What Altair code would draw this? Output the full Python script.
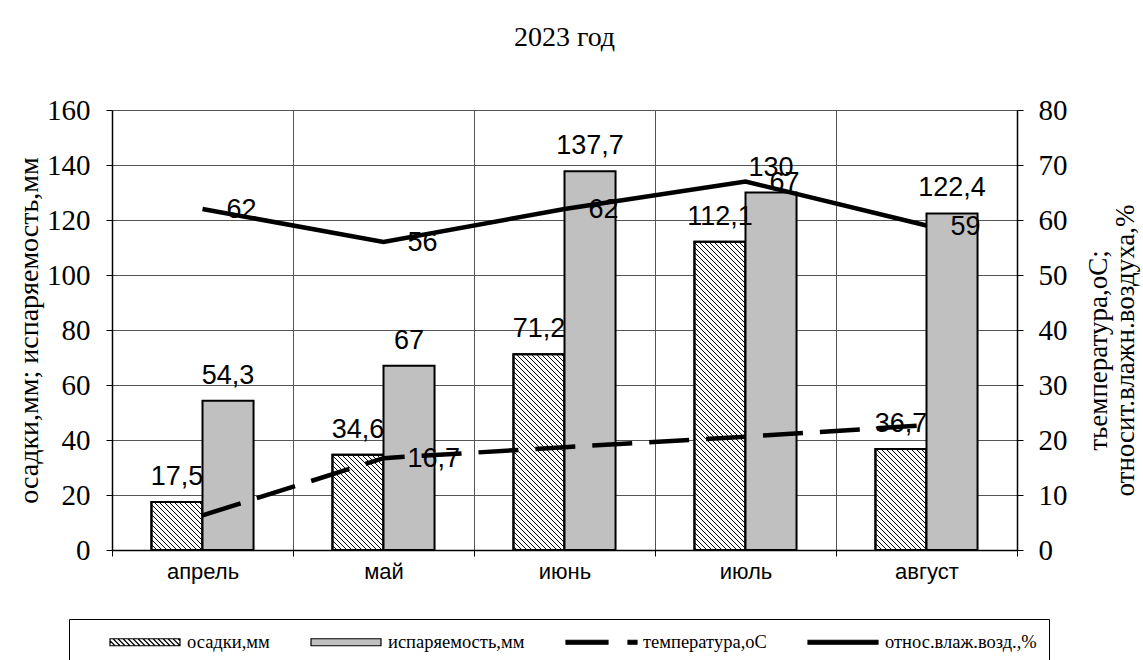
import altair as alt
import pandas as pd

# ---------------- data ----------------
months = ["апрель", "май", "июнь", "июль", "август"]
osadki = [17.5, 34.6, 71.2, 112.1, 36.7]
isparyaemost = [54.3, 67.0, 137.7, 130.0, 122.4]
temperatura = [6.3, 16.7, 18.7, 20.6, 22.7]
vlazhnost = [62, 56, 62, 67, 59]
temp_label_shown = [False, True, False, False, False]

series = ["осадки,мм", "испаряемость,мм", "температура,оС", "относ.влаж.возд.,%"]
chart_title = "2023 год"
left_title = "осадки,мм; испаряемость,мм"
right_title = ["тьемпература,оС;", "относит.влажн.воздуха,%"]
left_ticks = [0, 20, 40, 60, 80, 100, 120, 140, 160]
right_ticks = [0, 10, 20, 30, 40, 50, 60, 70, 80]

# ---------------- layout / style ----------------
W, H = 905, 440
LEFT_MAX, RIGHT_MAX = 160, 80
BAR = 0.282          # bar width in category units
HATCH_STEP = 5.0     # px between hatch lines (horizontal)
SERIF = "Liberation Serif"
SANS = "Liberation Sans"
GRID = "#555555"
GREY = "#c0c0c0"
n = len(months)


def fmt(v):
    return f"{v:g}".replace(".", ",")


hatch_rows, grey_rows = [], []
for i, m in enumerate(months):
    c = i + 0.5
    hatch_rows.append(dict(month=m, x0=c - BAR, x1=c, xc=c - BAR / 2, v=osadki[i], lbl=fmt(osadki[i])))
    grey_rows.append(dict(month=m, x0=c, x1=c + BAR, xc=c + BAR / 2, v=isparyaemost[i], lbl=fmt(isparyaemost[i])))
hatch_df = pd.DataFrame(hatch_rows)
grey_df = pd.DataFrame(grey_rows)
bars_df = pd.concat([hatch_df, grey_df], ignore_index=True)

lines_df = pd.DataFrame(dict(
    month=months,
    xc=[i + 0.5 for i in range(n)],
    t=temperatura,
    h=vlazhnost,
    tl=[fmt(t) if s else "" for t, s in zip(temperatura, temp_label_shown)],
    hl=[fmt(v) for v in vlazhnost],
))

# hatch line segments inside the precipitation bars (derived from the bar values)
sx = W / n
sy = H / LEFT_MAX
segs = []
for r in hatch_df.itertuples():
    x0p, x1p, hp = r.x0 * sx, r.x1 * sx, r.v * sy
    k = int(x0p // HATCH_STEP) + 1
    while k * HATCH_STEP < x1p + hp:
        cc = k * HATCH_STEP
        xa = max(x0p, cc - hp)
        xb = min(x1p, cc)
        if xb - xa > 0.5:
            segs.append(dict(hx=xa / sx, hy=(cc - xa) / sy, hx2=xb / sx, hy2=(cc - xb) / sy))
        k += 1
segs_df = pd.DataFrame(segs)

# legend symbol paths (unit = 10 px with symbolSize 400)
def rect_path(x0, x1, y0, y1):
    return f"M{x0},{y0}H{x1}V{y1}H{x0}Z"

hp_parts = [rect_path(-3.5, 3.5, -0.35, 0.35)]
t = -3.5 - 0.7
while t < 3.5:
    xa, xb = max(t, -3.5), min(t + 0.7, 3.5)
    if xb - xa > 0.05:
        hp_parts.append(f"M{xa:.3f},{-0.35 + (xa - t):.3f}L{xb:.3f},{-0.35 + (xb - t):.3f}")
    t += 0.5
hatch_sym = "".join(hp_parts)
grey_sym = rect_path(-3.5, 3.5, -0.35, 0.35)
dash_sym = rect_path(-3.5, 0.7, -0.2, 0.2) + rect_path(2.7, 3.6, -0.2, 0.2)
solid_sym = rect_path(-3.5, 3.5, -0.2, 0.2)

# ---------------- scales & axes ----------------
xscale = alt.Scale(domain=[0, n], nice=False, zero=False)
label_expr = "datum.value % 1 === 0.5 ? " + str(months) + "[floor(datum.value)] : ''"
on_int = {"condition": {"test": "datum.value % 1 === 0", "value": 1}, "value": 0}
xaxis = alt.Axis(
    values=[k / 2 for k in range(2 * n + 1)], labelExpr=label_expr, title=None,
    grid=True, gridColor=GRID, gridWidth=1, gridOpacity=on_int, tickOpacity=on_int,
    tickSize=6, tickColor="black", domainColor="black", domainWidth=1.5,
    labelFont=SANS, labelFontSize=22, labelColor="black", labelPadding=5,
    labelOverlap=False, labelFlush=False, labelBound=False,
)
yl_scale = alt.Scale(domain=[0, LEFT_MAX], nice=False, zero=True)
yr_scale = alt.Scale(domain=[0, RIGHT_MAX], nice=False, zero=True)
yl_axis = alt.Axis(
    orient="left", values=left_ticks, title=left_title, grid=True, gridColor=GRID, gridWidth=1,
    tickSize=6, tickColor="black", domainColor="black", domainWidth=1.5,
    labelFont=SERIF, labelFontSize=29, labelColor="black", labelPadding=16,
    titleFont=SERIF, titleFontSize=28, titleFontWeight="normal", titleColor="black", titlePadding=3,
)
yr_axis = alt.Axis(
    orient="right", values=right_ticks, title=right_title, grid=False,
    tickSize=6, tickColor="black", domainColor="black", domainWidth=1.5,
    labelFont=SERIF, labelFontSize=29, labelColor="black", labelPadding=15,
    titleFont=SERIF, titleFontSize=27, titleFontWeight="normal", titleColor="black",
    titleAngle=270, titleBaseline="top", titleLineHeight=27, titleX=68, titleY=240,
)


def X(f):
    return alt.X(f, type="quantitative", scale=xscale, axis=xaxis)


def YL(f):
    return alt.Y(f, type="quantitative", scale=yl_scale, axis=yl_axis)


def YR(f):
    return alt.Y(f, type="quantitative", scale=yr_scale, axis=yr_axis)


hatch_bg = alt.Chart(hatch_df).mark_rect(fill="white", stroke="black", strokeWidth=2).encode(
    x=X("x0"), x2="x1", y=YL("v"), y2=alt.datum(0))
hatch_lines = alt.Chart(segs_df).mark_rule(color="black", strokeWidth=1).encode(
    x=X("hx"), x2="hx2", y=YL("hy"), y2="hy2")
hatch_outline = alt.Chart(hatch_df).mark_rect(fillOpacity=0, stroke="black", strokeWidth=2).encode(
    x=X("x0"), x2="x1", y=YL("v"), y2=alt.datum(0))
grey_bars = alt.Chart(grey_df).mark_rect(fill=GREY, stroke="black", strokeWidth=2).encode(
    x=X("x0"), x2="x1", y=YL("v"), y2=alt.datum(0))
bar_labels = alt.Chart(bars_df).mark_text(
    font=SANS, fontSize=27, color="black", align="center", baseline="alphabetic", dy=-17
).encode(x=X("xc"), y=YL("v"), text="lbl:N")

left_group = alt.layer(hatch_bg, hatch_lines, hatch_outline, grey_bars, bar_labels)

hum_line = alt.Chart(lines_df).mark_line(color="black", strokeWidth=4.5).encode(x=X("xc"), y=YR("h"))
temp_line = alt.Chart(lines_df).mark_line(color="black", strokeWidth=4.5, strokeDash=[40, 17]).encode(
    x=X("xc"), y=YR("t"))
hum_labels = alt.Chart(lines_df).mark_text(
    font=SANS, fontSize=27, color="black", align="left", baseline="middle", dx=24, dy=1
).encode(x=X("xc"), y=YR("h"), text="hl:N")
temp_labels = alt.Chart(lines_df).mark_text(
    font=SANS, fontSize=27, color="black", align="left", baseline="middle", dx=24, dy=1
).encode(x=X("xc"), y=YR("t"), text="tl:N")

legend_obj = alt.Legend(
    title=None, orient="none", legendX=-43, legendY=509, direction="horizontal", columns=4,
    columnPadding=12, symbolSize=400, symbolStrokeWidth=1.2, symbolOffset=53, labelOffset=31,
    labelFont=SERIF, labelFontSize=18.5, labelColor="black", labelLimit=0,
    strokeColor="black", fillColor="white", padding=12,
)
leg_df = pd.DataFrame({"series": series})
legend_layer = alt.Chart(leg_df).mark_point(filled=True, opacity=1, strokeWidth=1.2).encode(
    shape=alt.Shape("series:N", scale=alt.Scale(domain=series, range=[hatch_sym, grey_sym, dash_sym, solid_sym]),
                    legend=legend_obj),
    fill=alt.Fill("series:N", scale=alt.Scale(domain=series, range=["white", GREY, "black", "black"]),
                  legend=legend_obj),
    stroke=alt.Stroke("series:N", scale=alt.Scale(domain=series, range=["black"] * 4), legend=legend_obj),
).transform_filter("false")

right_group = alt.layer(hum_line, temp_line, hum_labels, temp_labels, legend_layer)

chart = alt.layer(left_group, right_group).resolve_scale(y="independent").properties(
    width=W, height=H,
    title=alt.TitleParams(chart_title, font=SERIF, fontSize=28, fontWeight="normal", color="black",
                          anchor="middle", frame="group", offset=44),
    padding={"left": 112, "top": 110, "right": 126, "bottom": 110},
    autosize=alt.AutoSizeParams(type="none"),
    background="white",
).configure_view(stroke=None)

chart.save("out.html", embed_options={"renderer": "svg", "actions": False})
